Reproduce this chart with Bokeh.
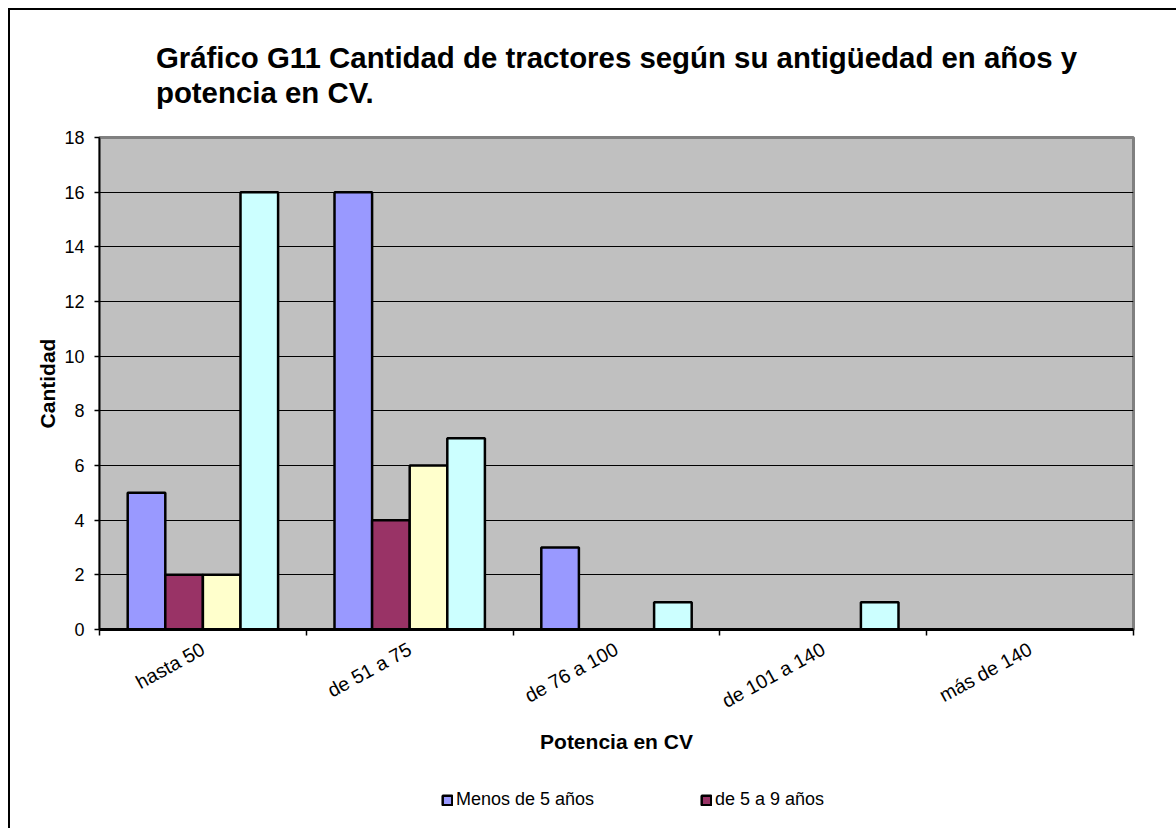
from bokeh.plotting import figure
from bokeh.models import (Range1d, FixedTicker, ColumnDataSource, Legend, LegendItem)
from bokeh.layouts import column
from bokeh.embed import file_html
from bokeh.resources import INLINE

categories = ["hasta 50", "de 51 a 75", "de 76 a 100", "de 101 a 140", "más de 140"]
series_names = ["Menos de 5 años", "de 5 a 9 años", "de 10 a 14 años", "15 años y más"]
menos_5 = [5, 16, 3, 0, 0]
de_5_a_9 = [2, 4, 0, 0, 0]
de_10_a_14 = [2, 6, 0, 0, 0]
mas_15 = [16, 7, 1, 1, 0]
colors = ["#9999FF", "#993366", "#FFFFCC", "#CCFFFF"]
y_ticks = [0, 2, 4, 6, 8, 10, 12, 14, 16, 18]

FONT = "Liberation Sans"
W = 1166

p = figure(width=W, height=758, output_backend="svg", toolbar_location=None,
           x_range=Range1d(0, len(categories)), y_range=Range1d(0, 18),
           min_border_left=89, min_border_right=43, min_border_top=127, min_border_bottom=139)

p.background_fill_color = "#C0C0C0"
p.border_fill_color = "white"
p.outline_line_color = "#808080"
p.outline_line_width = 3

n = len(series_names)
bw = 1.0 / (n + 1.5)
all_series = [menos_5, de_5_a_9, de_10_a_14, mas_15]
sources = []
renderers = []
for k, (vals, col) in enumerate(zip(all_series, colors)):
    xs = [i + 0.5 + (k - (n - 1) / 2) * bw for i in range(len(categories))]
    src = ColumnDataSource(dict(x=xs, top=vals, cat=categories))
    sources.append(src)
    r = p.vbar(x="x", top="top", width=bw, source=src, fill_color=col,
               line_color="black", line_width=2.5)
    renderers.append(r)

# Axes
p.xaxis.ticker = FixedTicker(ticks=[i + 0.5 for i in range(len(categories))],
                             minor_ticks=list(range(len(categories) + 1)))
p.xaxis.major_label_overrides = {i + 0.5: c for i, c in enumerate(categories)}
p.xaxis.major_tick_out = 0
p.xaxis.major_tick_in = 0
p.xaxis.minor_tick_out = 6
p.xaxis.minor_tick_in = 0
p.xaxis.minor_tick_line_color = "black"
p.xaxis.minor_tick_line_width = 1.5
p.xaxis.axis_line_color = "black"
p.xaxis.axis_line_width = 3
p.xaxis.major_label_orientation = 0.5
p.xaxis.major_label_text_font = FONT
p.xaxis.major_label_text_font_size = "19.5px"
p.xaxis.major_label_text_color = "black"
p.xaxis.major_label_standoff = 12
p.xaxis.axis_label = "Potencia en CV"
p.xaxis.axis_label_text_font = FONT
p.xaxis.axis_label_text_font_size = "21px"
p.xaxis.axis_label_text_font_style = "bold"
p.xaxis.axis_label_text_color = "black"
p.xaxis.axis_label_standoff = 6

p.yaxis.ticker = FixedTicker(ticks=y_ticks)
p.yaxis.major_tick_out = 5
p.yaxis.major_tick_in = 0
p.yaxis.minor_tick_out = 0
p.yaxis.minor_tick_in = 0
p.yaxis.major_tick_line_color = "black"
p.yaxis.major_tick_line_width = 1.5
p.yaxis.axis_line_color = "black"
p.yaxis.axis_line_width = 1.5
p.yaxis.major_label_text_font = FONT
p.yaxis.major_label_text_font_size = "18px"
p.yaxis.major_label_text_color = "black"
p.yaxis.major_label_standoff = 10
p.yaxis.axis_label = "Cantidad"
p.yaxis.axis_label_text_font = FONT
p.yaxis.axis_label_text_font_size = "21px"
p.yaxis.axis_label_text_font_style = "bold"
p.yaxis.axis_label_text_color = "black"
p.yaxis.axis_label_standoff = 2

p.xgrid.grid_line_color = None
p.ygrid.grid_line_color = "black"
p.ygrid.grid_line_width = 1

# Title
p.title.text = "Gráfico G11 Cantidad de tractores según su antigüedad en años y\npotencia en CV."
p.title.align = "center"
p.title.text_font = FONT
p.title.text_font_size = "29.4px"
p.title.text_font_style = "bold"
p.title.text_color = "black"
p.title.text_line_height = 1.08
p.title.standoff = 56

# Legend strip (only the first two entries are visible in the original)
lf = figure(width=W, height=60, output_backend="svg", toolbar_location=None,
            x_range=Range1d(0, len(categories)), y_range=Range1d(-2, -1),
            x_axis_type=None, y_axis_type=None,
            min_border_left=0, min_border_right=0, min_border_top=0, min_border_bottom=0)
lf.outline_line_color = None
lf.background_fill_color = "white"
lf.border_fill_color = "white"
lf.xgrid.grid_line_color = None
lf.ygrid.grid_line_color = None
leg_r = []
for k in range(2):
    leg_r.append(lf.vbar(x="x", top="top", width=bw, source=sources[k],
                         fill_color=colors[k], line_color="black", line_width=2.5,
                         visible=False))
legend = Legend(items=[LegendItem(label=series_names[0], renderers=[leg_r[0]]),
                       LegendItem(label=series_names[1], renderers=[leg_r[1]])],
                orientation="horizontal", location=(342, 18))
legend.background_fill_alpha = 0
legend.border_line_color = None
legend.label_text_font = FONT
legend.label_text_font_size = "18px"
legend.label_text_color = "black"
legend.glyph_width = 12
legend.glyph_height = 12
legend.label_standoff = 3
legend.label_width = 244
legend.spacing = 0
legend.padding = 0
legend.margin = 0
lf.add_layout(legend, "center")

layout = column(p, lf, spacing=0)
layout.styles = {"border-left": "2px solid black", "border-top": "2px solid black",
                 "margin-left": "8px", "margin-top": "8px"}

open("out.html", "w").write(file_html(layout, INLINE))
